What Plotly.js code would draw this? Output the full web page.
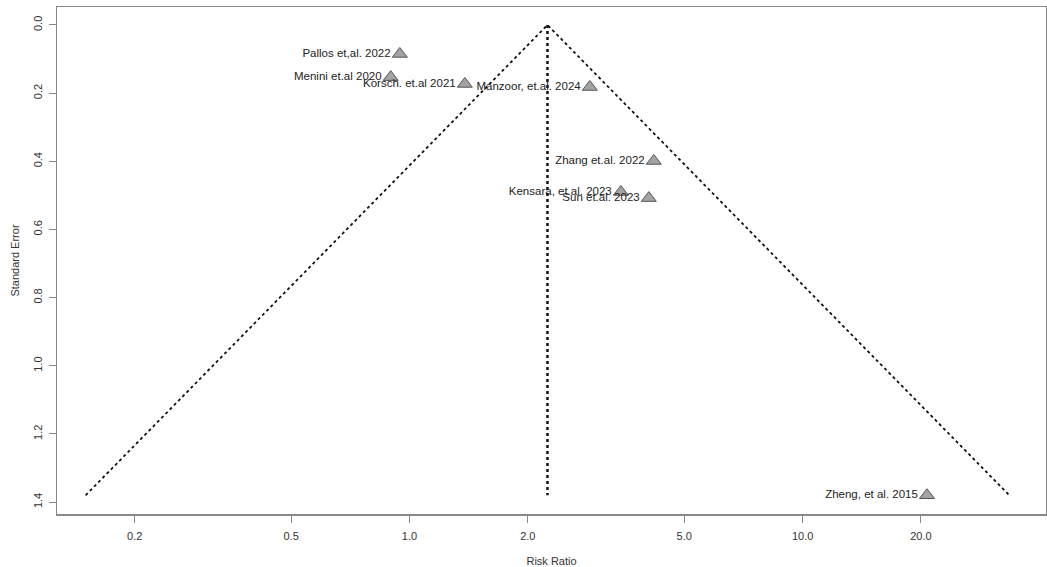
<!DOCTYPE html>
<html>
<head>
<meta charset="utf-8">
<script src="https://cdn.plot.ly/plotly-3.0.1.min.js"></script>
<style>html,body{margin:0;padding:0;background:#fff}#chart{width:1047px;height:567px}</style>
</head>
<body>
<div id="chart"></div>
<script>
// Study data
const studies = ["Pallos et,al. 2022", "Menini et.al 2020", "Korsch. et.al 2021", "Manzoor, et.al. 2024",
                 "Zhang et.al. 2022", "Kensara, et.al. 2023", "Sun et.al. 2023", "Zheng, et al. 2015"];
const riskRatio = [0.945, 0.896, 1.383, 2.876, 4.183, 3.449, 4.063, 20.72];
const standardError = [0.085, 0.153, 0.173, 0.182, 0.399, 0.490, 0.508, 1.38];
// Pooled estimate (apex of funnel)
const pooledRR = 2.244;
const xTickVals = [0.2, 0.5, 1, 2, 5, 10, 20];
const xTickText = ["0.2", "0.5", "1.0", "2.0", "5.0", "10.0", "20.0"];
const yTickVals = [0, 0.2, 0.4, 0.6, 0.8, 1.0, 1.2, 1.4];
const yTickText = ["0.0", "0.2", "0.4", "0.6", "0.8", "1.0", "1.2", "1.4"];

const seMax = Math.max(...standardError);
const lnEst = Math.log(pooledRR);
const funnelX = [Math.exp(lnEst - 1.96 * seMax), pooledRR, Math.exp(lnEst + 1.96 * seMax)];
const funnelY = [seMax, 0, seMax];

const font = "Liberation Sans, Arial, sans-serif";

const traces = [
  {x: funnelX, y: funnelY, mode: "lines", line: {color: "#111", width: 1.8, dash: "dot"}, hoverinfo: "skip"},
  {x: [pooledRR, pooledRR], y: [0, seMax], mode: "lines", line: {color: "#111", width: 2.5, dash: "dot"}, hoverinfo: "skip"},
  {x: riskRatio, y: standardError, mode: "markers+text", text: studies, textposition: "middle left",
   textfont: {family: font, size: 11.5, color: "#222"},
   marker: {symbol: "triangle-up", size: 13, color: "#a3a3a3", line: {color: "#555", width: 1}}}
];

const layout = {
  width: 1047, height: 567,
  margin: {l: 57, r: 1, t: 7, b: 53},
  paper_bgcolor: "#fff", plot_bgcolor: "#fff",
  showlegend: false,
  font: {family: font, size: 11, color: "#333"},
  xaxis: {
    type: "log", range: [Math.log10(0.1269), Math.log10(41.6)],
    tickvals: xTickVals, ticktext: xTickText,
    showgrid: false, zeroline: false,
    showline: true, mirror: true, linecolor: "#888", linewidth: 1.5,
    ticks: "outside", ticklen: 7, tickcolor: "#888", tickwidth: 1,
    ticklabelstandoff: 4,
    tickfont: {family: font, size: 11, color: "#333"},
    title: {text: "Risk Ratio", font: {family: font, size: 11, color: "#333"}, standoff: 16}
  },
  yaxis: {
    range: [1.435, -0.0528],
    tickvals: yTickVals, ticktext: yTickText, tickangle: -90,
    showgrid: false, zeroline: false,
    showline: true, mirror: true, linecolor: "#888", linewidth: 1.5,
    ticks: "outside", ticklen: 7, tickcolor: "#888", tickwidth: 1,
    ticklabelstandoff: 2,
    tickfont: {family: font, size: 11, color: "#333"},
    title: {text: "Standard Error", font: {family: font, size: 11, color: "#333"}, standoff: 10}
  }
};

Plotly.newPlot("chart", traces, layout, {displayModeBar: false, staticPlot: true});
</script>
</body>
</html>
